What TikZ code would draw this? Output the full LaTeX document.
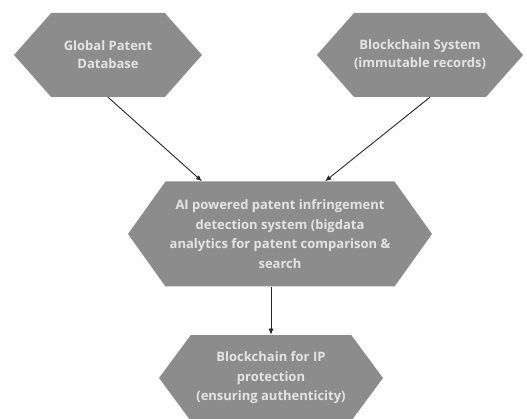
\documentclass[tikz,border=0pt]{standalone}
\usepackage{fontspec}
\setmainfont{Open Sans}
\usepackage{tikz}
\usetikzlibrary{arrows.meta,shapes.symbols}
\definecolor{hexgray}{RGB}{140,140,140}
\definecolor{hextext}{RGB}{228,228,228}
\tikzset{
  hexbox/.style={signal,signal from=nowhere,signal to={west and east},
    fill=hexgray,draw=none,text=hextext,align=center,inner sep=0pt,
    font=\fontsize{13}{18}\selectfont\bfseries},
  hexbig/.style={hexbox,font=\fontsize{13}{19.5}\selectfont\bfseries},
  hflow/.style={-{Latex[length=2.2mm,width=1.8mm]},line width=0.9pt,draw=black!85},
}

\begin{document}
\begin{tikzpicture}[x=1pt,y=-1pt]
\useasboundingbox (0,0) rectangle (527,419);
% top row: the two sources
\node[hexbox,minimum width=188pt,minimum height=84pt,signal pointer angle=97] (gpd) at (108,55) {Global Patent\\Database};
\node[hexbox,minimum width=190pt,minimum height=84pt,signal pointer angle=97] (bcs) at (420,55) {Blockchain System\\(immutable records)};
% middle: the detection system
\node[hexbig,minimum width=304pt,minimum height=105pt,signal pointer angle=109] (ai) at (280,234)
  {AI powered patent infringement\\detection system (bigdata\\analytics for patent comparison \&\\search};
% bottom: the result
\node[hexbig,minimum width=224pt,minimum height=86pt,signal pointer angle=107] (ipb) at (271,378)
  {Blockchain for IP\\protection\\(ensuring authenticity)};
% connectors
\draw[hflow] (gpd.south) -- ([xshift=-78pt]ai.north);
\draw[hflow] ([xshift=10pt]bcs.south) -- ([xshift=45pt]ai.north);
\draw[hflow] ([xshift=-9pt]ai.south) -- (ipb.north);
\end{tikzpicture}
\end{document}
